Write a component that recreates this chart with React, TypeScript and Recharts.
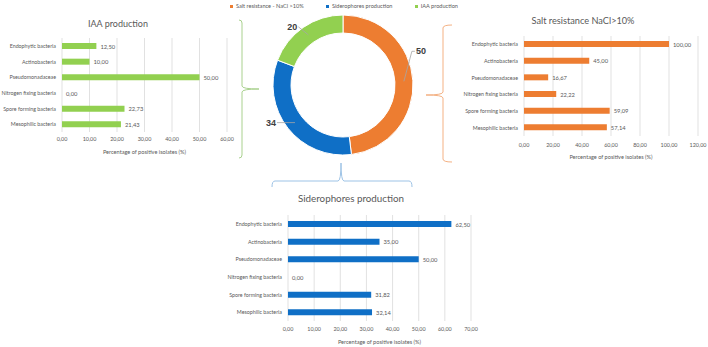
import React from 'react';
import { BarChart, Bar, XAxis, YAxis, CartesianGrid, LabelList, PieChart, Pie, Cell } from 'recharts';

// Bacterial groups (top to bottom in each bar chart)
const groups = [
  'Endophytic bacteria',
  'Actinobacteria',
  'Pseudomonadaceae',
  'Nitrogen fixing bacteria',
  'Spore forming bacteria',
  'Mesophilic bacteria',
];

// Percentage of positive isolates per group
const iaaValues = [12.5, 10.0, 50.0, 0.0, 22.73, 21.43];
const saltValues = [100.0, 45.0, 16.67, 22.22, 59.09, 57.14];
const sideroValues = [62.5, 35.0, 50.0, 0.0, 31.82, 32.14];

// Axis ticks
const iaaTicks = [0, 10, 20, 30, 40, 50, 60];
const saltTicks = [0, 20, 40, 60, 80, 100, 120];
const sideroTicks = [0, 10, 20, 30, 40, 50, 60, 70];

// Donut: number of positive isolates per trait
const traitNames = ['Salt resistance - NaCl >10%', 'Siderophores production', 'IAA production'];
const traitCounts = [50, 34, 20];

const ORANGE = '#ED7D31';
const BLUE = '#0F6FC6';
const GREEN = '#92D050';
const traitColors = [ORANGE, BLUE, GREEN];

const FONT = 'Lato, "Open Sans", sans-serif';
const TEXT = '#595959';
const GRID = '#D9D9D9';
const AXIS_TITLE = 'Percentage of positive isolates (%)';

const fmt = (v: number) => v.toFixed(2).replace('.', ',');

const rows = (values: number[]) => groups.map((name, i) => ({ name, value: values[i] }));

// Single-line category tick (no wrapping)
function CategoryTick(props: any) {
  const { x, y, payload } = props;
  return (
    <text x={x} y={y} textAnchor="end" dominantBaseline="central" fontSize={5.3} fill={TEXT} fontFamily={FONT}>
      {payload.value}
    </text>
  );
}

// Value label drawn to the right of each bar end, zero values included
function ValueLabel(props: any) {
  const { x, y, width, height, value } = props;
  if (value === undefined || value === null) return null;
  return (
    <text
      x={Number(x) + Number(width || 0) + 4}
      y={Number(y) + Number(height) / 2}
      textAnchor="start"
      dominantBaseline="central"
      fontSize={5.8}
      fill={TEXT}
      fontFamily={FONT}
    >
      {fmt(Number(value))}
    </text>
  );
}

type HBarProps = {
  values: number[];
  ticks: number[];
  color: string;
  width: number;
  height: number;
  margin: { top: number; right: number; bottom: number; left: number };
  yWidth: number;
  xHeight: number;
  tickMargin: number;
};

function HBar({ values, ticks, color, width, height, margin, yWidth, xHeight, tickMargin }: HBarProps) {
  return (
    <BarChart
      width={width}
      height={height}
      data={rows(values)}
      layout="vertical"
      margin={margin}
      barCategoryGap={0}
    >
      <CartesianGrid horizontal={false} stroke={GRID} strokeWidth={0.8} />
      <XAxis
        type="number"
        domain={[ticks[0], ticks[ticks.length - 1]]}
        ticks={ticks}
        tickFormatter={fmt}
        axisLine={false}
        tickLine={false}
        tickSize={0}
        tickMargin={tickMargin}
        height={xHeight}
        interval={0}
        tick={{ fontSize: 5.4, fill: TEXT, fontFamily: FONT }}
        label={{
          value: AXIS_TITLE,
          position: 'insideBottom',
          offset: 0,
          style: { fontSize: 5.6, fill: TEXT, fontFamily: FONT },
        }}
      />
      <YAxis
        type="category"
        dataKey="name"
        width={yWidth}
        axisLine={false}
        tickLine={false}
        tickSize={0}
        tickMargin={6}
        interval={0}
        tick={<CategoryTick />}
      />
      <Bar dataKey="value" fill={color} barSize={6} minPointSize={0.01} isAnimationActive={false}>
        <LabelList dataKey="value" content={<ValueLabel />} />
      </Bar>
    </BarChart>
  );
}

// Leader-line end points relative to the ring centre of each slice
const leaderEnds = [
  [8, -30],
  [-18, 0],
  [-10, -8],
];

const RADIAN = Math.PI / 180;

function DonutLabel(props: any) {
  const { cx, cy, midAngle, innerRadius, outerRadius, index, value } = props;
  const r = (innerRadius + outerRadius) / 2;
  const sx = cx + r * Math.cos(-midAngle * RADIAN);
  const sy = cy + r * Math.sin(-midAngle * RADIAN);
  const [dx, dy] = leaderEnds[index];
  const ex = sx + dx;
  const ey = sy + dy;
  const right = dx > 0;
  return (
    <g>
      <polyline
        points={right ? `${sx},${sy} ${ex},${ey} ${ex + 3},${ey}` : `${sx},${sy} ${ex},${ey}`}
        fill="none"
        stroke="#A6A6A6"
        strokeWidth={0.8}
      />
      <text
        x={right ? ex + 4 : ex - 1}
        y={ey}
        textAnchor={right ? 'start' : 'end'}
        dominantBaseline="central"
        fontSize={9}
        fontWeight="bold"
        fill="#404040"
        fontFamily='"Liberation Sans", Arial, sans-serif'
      >
        {value}
      </text>
    </g>
  );
}

function vBrace(x: number, y1: number, y2: number, tipX: number, tipY: number, hook: number) {
  const r = 3;
  return `M ${x + hook},${y1} Q ${x},${y1} ${x},${y1 + r} L ${x},${tipY - r} Q ${x},${tipY} ${tipX},${tipY} Q ${x},${tipY} ${x},${tipY + r} L ${x},${y2 - r} Q ${x},${y2} ${x + hook},${y2}`;
}

function hBrace(y: number, x1: number, x2: number, tipX: number, tipY: number, hook: number) {
  const r = 3;
  return `M ${x1},${y + hook} Q ${x1},${y} ${x1 + r},${y} L ${tipX - r},${y} Q ${tipX},${y} ${tipX},${tipY} Q ${tipX},${y} ${tipX + r},${y} L ${x2 - r},${y} Q ${x2},${y} ${x2},${y + hook}`;
}

const titleStyle = (left: number, top: number, width: number, size: number): React.CSSProperties => ({
  position: 'absolute',
  left,
  top,
  width,
  textAlign: 'center',
  fontFamily: FONT,
  fontSize: size,
  color: TEXT,
  lineHeight: 1,
  whiteSpace: 'nowrap',
});

export default function App() {
  const donutData = traitNames.map((name, i) => ({ name, value: traitCounts[i] }));
  return (
    <div
      style={{
        position: 'absolute',
        left: 0,
        top: 0,
        width: 708,
        height: 347,
        background: '#ffffff',
        overflow: 'hidden',
        fontFamily: FONT,
      }}
    >
      {/* IAA production */}
      <div style={titleStyle(18, 19, 200, 9)}>IAA production</div>
      <div style={{ position: 'absolute', left: 0, top: 0 }}>
        <HBar
          values={iaaValues}
          ticks={iaaTicks}
          color={GREEN}
          width={240}
          height={160}
          margin={{ top: 38, right: 13, bottom: 6, left: 0 }}
          yWidth={62}
          xHeight={22}
          tickMargin={5}
        />
      </div>

      {/* Salt resistance */}
      <div style={titleStyle(483, 16, 200, 9.2)}>Salt resistance NaCl&gt;10%</div>
      <div style={{ position: 'absolute', left: 440, top: 0 }}>
        <HBar
          values={saltValues}
          ticks={saltTicks}
          color={ORANGE}
          width={268}
          height={165}
          margin={{ top: 36, right: 10, bottom: 6, left: 0 }}
          yWidth={84}
          xHeight={23}
          tickMargin={7}
        />
      </div>

      {/* Siderophores production */}
      <div style={titleStyle(251, 194, 200, 9.8)}>Siderophores production</div>
      <div style={{ position: 'absolute', left: 180, top: 190 }}>
        <HBar
          values={sideroValues}
          ticks={sideroTicks}
          color={BLUE}
          width={300}
          height={156}
          margin={{ top: 25, right: 9, bottom: 2, left: 0 }}
          yWidth={108}
          xHeight={23}
          tickMargin={6}
        />
      </div>

      {/* Legend */}
      <div
        style={{
          position: 'absolute',
          left: 230,
          top: 2,
          width: 228,
          display: 'flex',
          justifyContent: 'space-between',
          fontSize: 5.6,
          color: TEXT,
          lineHeight: '8px',
          whiteSpace: 'nowrap',
        }}
      >
        {traitNames.map((n, i) => (
          <span key={n} style={{ display: 'flex', alignItems: 'center' }}>
            <span
              style={{ display: 'inline-block', width: 3, height: 3, background: traitColors[i], marginRight: 3 }}
            />
            {n}
          </span>
        ))}
      </div>

      {/* Donut */}
      <div style={{ position: 'absolute', left: 230, top: 0 }}>
        <PieChart width={226} height={170} margin={{ top: 0, right: 0, bottom: 0, left: 0 }}>
          <Pie
            data={donutData}
            dataKey="value"
            cx={113}
            cy={85}
            innerRadius={52}
            outerRadius={70}
            startAngle={90}
            endAngle={-270}
            stroke="#ffffff"
            strokeWidth={1}
            label={DonutLabel}
            labelLine={false}
            isAnimationActive={false}
          >
            {donutData.map((d, i) => (
              <Cell key={d.name} fill={traitColors[i]} />
            ))}
          </Pie>
        </PieChart>
      </div>

      {/* Braces linking the donut to each detail chart */}
      <svg width={708} height={347} style={{ position: 'absolute', left: 0, top: 0, pointerEvents: 'none' }}>
        <path d={vBrace(242, 20, 158, 259, 89, -3)} fill="none" stroke="#A9D18E" strokeWidth={1} />
        <path d={vBrace(443, 25, 162, 426, 95, 9)} fill="none" stroke="#F4B183" strokeWidth={1} />
        <path d={hBrace(181, 272, 412, 341, 163, 6)} fill="none" stroke="#9DC3E6" strokeWidth={1} />
      </svg>
    </div>
  );
}
